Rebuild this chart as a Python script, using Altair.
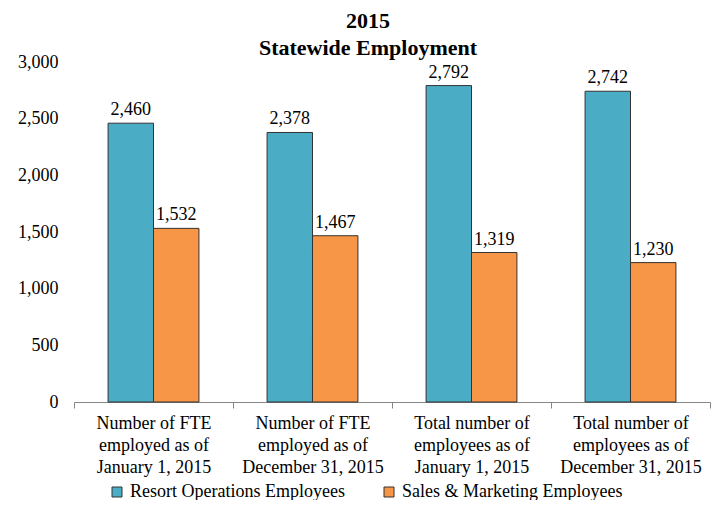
import altair as alt
import pandas as pd

categories = [
    "Number of FTE|employed as of|January 1, 2015",
    "Number of FTE|employed as of|December 31, 2015",
    "Total number of|employees as of|January 1, 2015",
    "Total number of|employees as of|December 31, 2015",
]
series = ["Resort Operations Employees", "Sales & Marketing Employees"]
resort_values = [2460, 2378, 2792, 2742]
sales_values = [1532, 1467, 1319, 1230]
colors = ["#4BACC6", "#F79646"]
y_ticks = [0, 500, 1000, 1500, 2000, 2500, 3000]

rows = []
for c, r, s in zip(categories, resort_values, sales_values):
    rows.append({"category": c, "series": series[0], "value": r})
    rows.append({"category": c, "series": series[1], "value": s})
df = pd.DataFrame(rows)

FONT = "Liberation Serif"

x = alt.X("category:N", sort=categories, title=None,
          scale=alt.Scale(paddingInner=0, paddingOuter=0),
          axis=alt.Axis(labelExpr="split(datum.label, '|')", labelAngle=0,
                        labelFont=FONT, labelFontSize=18, labelColor="black",
                        labelLineHeight=22, labelPadding=6, labelBaseline="top",
                        tickBand="extent", tickColor="#868686", tickSize=6,
                        domainColor="#868686", labelLimit=300))
xo = alt.XOffset("series:N", sort=series,
                 scale=alt.Scale(paddingInner=0, paddingOuter=0.75))
y = alt.Y("value:Q", title=None,
          scale=alt.Scale(domain=[0, 3000]),
          axis=alt.Axis(values=y_ticks,
                        labelExpr="format(datum.value, ',')",
                        grid=False, domain=False, ticks=False,
                        labelFont=FONT, labelFontSize=18, labelColor="black",
                        labelPadding=16))
color = alt.Color("series:N", sort=series,
                  scale=alt.Scale(domain=series, range=colors),
                  legend=alt.Legend(title=None, orient="none", legendX=34, legendY=421,
                                    direction="horizontal", columns=2,
                                    symbolType="square", symbolSize=100,
                                    symbolStrokeColor="#333333", symbolStrokeWidth=1,
                                    labelFont=FONT, labelFontSize=18, labelColor="black",
                                    columnPadding=35, labelOffset=4, labelLimit=400))

bars = alt.Chart(df).mark_bar(stroke="#333333", strokeWidth=1).encode(
    x=x, xOffset=xo, y=y, color=color)
labels = alt.Chart(df).mark_text(baseline="alphabetic", dy=-8, font=FONT, fontSize=18,
                                 color="black").encode(
    x=alt.X("category:N", sort=categories), xOffset=xo, y="value:Q",
    text=alt.Text("value:Q", format=","))

chart = alt.layer(bars, labels).properties(
    width=636, height=340,
    title=alt.TitleParams(["2015", "Statewide Employment"], font=FONT, fontSize=22,
                          fontWeight="bold", color="black", anchor="middle",
                          lineHeight=27, offset=-7, dx=-24),
    autosize=alt.AutoSizeParams(type="none"),
    padding={"left": 66, "top": 54, "right": 3, "bottom": 98},
).configure_view(stroke=None)

chart.save("out.html", embed_options={"renderer": "svg", "actions": False})
